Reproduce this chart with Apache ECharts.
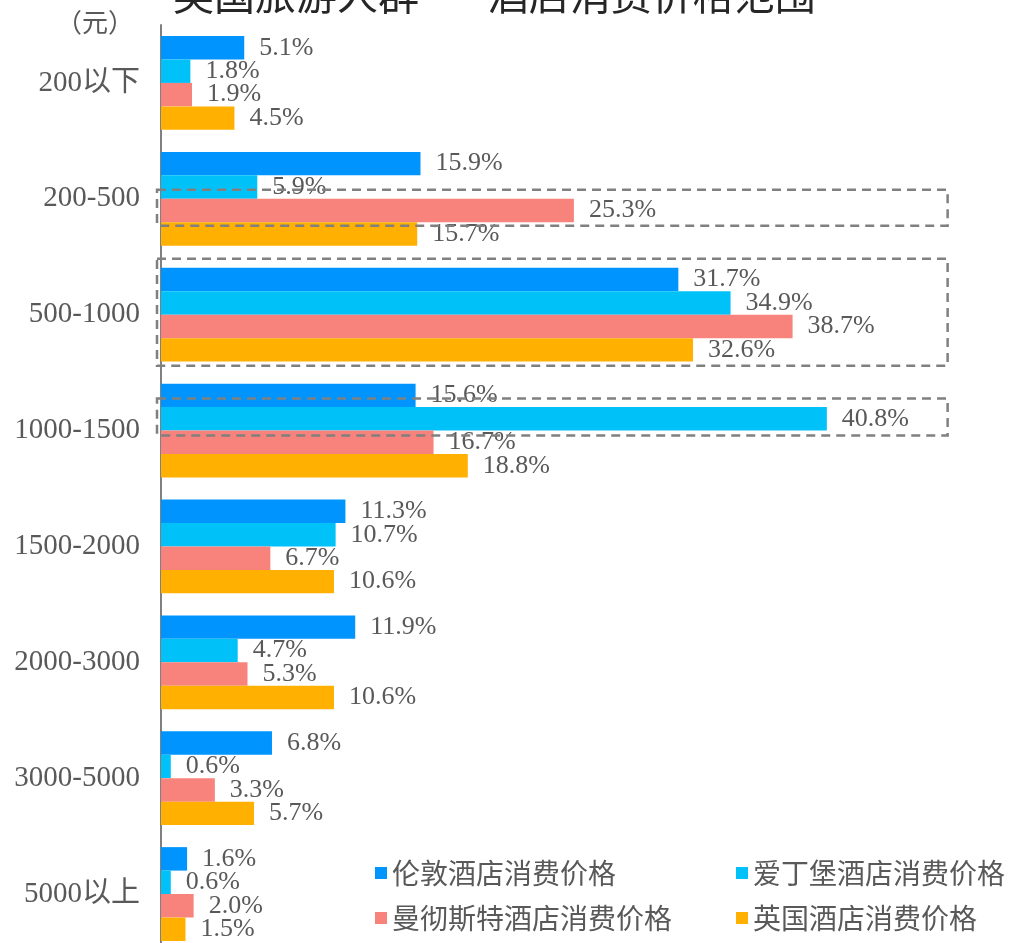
<!DOCTYPE html>
<html>
<head>
<meta charset="utf-8">
<script src="https://cdn.jsdelivr.net/npm/echarts@6/dist/echarts.min.js"></script>
<style>
  html, body { margin: 0; padding: 0; background: #fff; }
  #chart { width: 1010px; height: 943px; }
</style>
</head>
<body>
<div id="chart"></div>
<script>
// price bands (yuan)
const categories = ['200以下', '200-500', '500-1000', '1000-1500', '1500-2000', '2000-3000', '3000-5000', '5000以上']

const seriesNames = ['伦敦酒店消费价格', '爱丁堡酒店消费价格', '曼彻斯特酒店消费价格', '英国酒店消费价格']
const london     = [5.1, 15.9, 31.7, 15.6, 11.3, 11.9, 6.8, 1.6]
const edinburgh  = [1.8, 5.9, 34.9, 40.8, 10.7, 4.7, 0.6, 0.6]
const manchester = [1.9, 25.3, 38.7, 16.7, 6.7, 5.3, 3.3, 2.0]
const uk         = [4.5, 15.7, 32.6, 18.8, 10.6, 10.6, 5.7, 1.5]
const colors = ['#0094FF', '#00C2F8', '#F8837D', '#FFB000']

const textGray = '#595959'
const serifFont = "'Liberation Serif', 'Noto Sans CJK SC', serif"
const cjkFont = "'Noto Sans CJK SC', sans-serif"

const chart = echarts.init(document.getElementById('chart'))

function makeSeries(name, data, color) {
  return {
    name,
    type: 'bar',
    data,
    barGap: '0%',
    barCategoryGap: '19%',
    itemStyle: { color },
    label: {
      show: true,
      position: 'right',
      distance: 15,
      color: textGray,
      fontFamily: serifFont,
      fontSize: 26,
      formatter: p => p.value.toFixed(1) + '%',
    },
  }
}

const legendText = { fontSize: 28, color: textGray, fontFamily: cjkFont }

chart.setOption({
  animation: false,
  title: {
    text: '英国旅游人群——酒店消费价格范围',
    left: 168,
    top: -31,
    textStyle: { fontSize: 41, fontWeight: 'normal', color: '#262626', fontFamily: cjkFont },
  },
  legend: [
    {
      data: [seriesNames[0], seriesNames[2]],
      orient: 'vertical',
      left: 370,
      top: 854,
      icon: 'rect',
      itemWidth: 12,
      itemHeight: 12,
      itemGap: 17,
      textStyle: legendText,
    },
    {
      data: [seriesNames[1], seriesNames[3]],
      orient: 'vertical',
      left: 731,
      top: 854,
      icon: 'rect',
      itemWidth: 12,
      itemHeight: 12,
      itemGap: 17,
      textStyle: legendText,
    },
  ],
  grid: { left: 161, top: 25, width: 816, height: 927, outerBoundsMode: 'none' },
  xAxis: {
    type: 'value',
    min: 0,
    max: 50,
    show: false,
  },
  yAxis: {
    type: 'category',
    data: categories,
    inverse: true,
    axisLine: { show: true, lineStyle: { color: '#808080', width: 2 } },
    axisTick: { show: false },
    axisLabel: { color: textGray, fontSize: 29, fontFamily: serifFont, margin: 21 },
  },
  series: [
    makeSeries(seriesNames[0], london, colors[0]),
    makeSeries(seriesNames[1], edinburgh, colors[1]),
    makeSeries(seriesNames[2], manchester, colors[2]),
    makeSeries(seriesNames[3], uk, colors[3]),
  ],
})

// dashed highlight boxes, placed relative to the category band centres
const x0 = chart.convertToPixel({ xAxisIndex: 0 }, 0) - 4
const x1 = chart.convertToPixel({ xAxisIndex: 0 }, 48.2)
function box(cat, dy0, dy1) {
  const c = chart.convertToPixel({ yAxisIndex: 0 }, cat)
  return {
    type: 'rect',
    shape: { x: x0, y: c + dy0, width: x1 - x0, height: dy1 - dy0 },
    style: { fill: 'none', stroke: '#808080', lineWidth: 2.5, lineDash: [9, 6] },
    z: 100,
  }
}
chart.setOption({
  graphic: [
    { type: 'text', left: 56, top: 9, style: { text: '（元）', fill: textGray, font: '26px ' + cjkFont } },
    box('200-500', -9, 27),
    box('500-1000', -56, 51),
    box('1000-1500', -32, 5),
  ],
})
</script>
</body>
</html>
